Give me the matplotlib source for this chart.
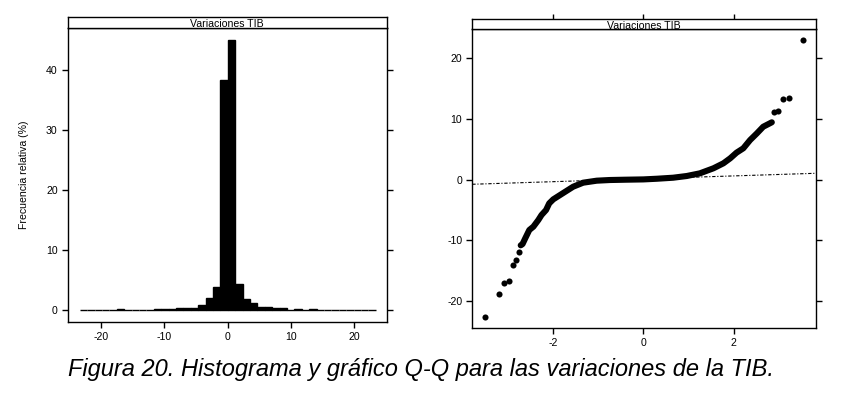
import matplotlib
matplotlib.use("Agg")
import matplotlib.pyplot as plt
import numpy as np

plt.rcParams['font.family'] = ['Liberation Sans', 'DejaVu Sans']
plt.rcParams['axes.unicode_minus'] = False

# ---------------- data ----------------
panel_title = "Variaciones TIB"
hist_ylabel = "Frecuencia relativa (%)"
caption = "Figura 20. Histograma y gráfico Q-Q para las variaciones de la TIB."

# histogram: bin edges (40 bins of ~1.17) and relative frequency (%)
hist_edges = [-23.4, -22.23, -21.06, -19.89, -18.72, -17.55, -16.38, -15.21, -14.04,
              -12.87, -11.7, -10.53, -9.36, -8.19, -7.02, -5.85, -4.68, -3.51, -2.34,
              -1.17, 0.0, 1.17, 2.34, 3.51, 4.68, 5.85, 7.02, 8.19, 9.36, 10.53, 11.7,
              12.87, 14.04, 15.21, 16.38, 17.55, 18.72, 19.89, 21.06, 22.23, 23.4]
hist_pct = [0.05, 0.0, 0.0, 0.05, 0.0, 0.15, 0.0, 0.05, 0.05, 0.05,
            0.15, 0.2, 0.25, 0.4, 0.45, 0.45, 0.9, 2.0, 3.8, 38.3,
            45.0, 4.4, 1.8, 1.2, 0.6, 0.6, 0.4, 0.4, 0.05, 0.15,
            0.0, 0.15, 0.0, 0.0, 0.0, 0.0, 0.0, 0.0, 0.0, 0.05]
hist_xticks = [-20, -10, 0, 10, 20]
hist_yticks = [0, 10, 20, 30, 40]

# Q-Q plot: dense body of points (theoretical, sample)
qq_theo_body = [-2.71, -2.67, -2.61, -2.52, -2.43, -2.32, -2.25, -2.15, -2.08, -1.99,
                -1.84, -1.69, -1.55, -1.33, -1.03, -0.74, -0.40, 0.0, 0.30, 0.66,
                0.96, 1.25, 1.55, 1.77, 1.92, 2.06, 2.21, 2.36, 2.51, 2.65, 2.84]
qq_samp_body = [-10.8, -10.6, -9.65, -8.28, -7.73, -6.63, -5.81, -4.99, -3.89, -3.23,
                -2.52, -1.81, -1.15, -0.49, -0.16, -0.05, 0.0, 0.05, 0.16, 0.33,
                0.61, 1.05, 1.88, 2.70, 3.52, 4.45, 5.17, 6.53, 7.63, 8.72, 9.45]
# isolated tail points
qq_theo_tail = [-3.51, -3.20, -3.07, -2.96, -2.89, -2.81, -2.75, 2.89, 2.97, 3.08, 3.22, 3.52]
qq_samp_tail = [-22.65, -18.77, -16.95, -16.73, -14.04, -13.22, -11.9, 11.2, 11.3, 13.33, 13.4, 22.95]
# reference line
qq_line_intercept = 0.15
qq_line_slope = 0.238
qq_xticks = [-2, 0, 2]
qq_yticks = [-20, -10, 0, 10, 20]

# ---------------- figure ----------------
W, H = 851, 399
fig = plt.figure(figsize=(W / 100, H / 100), dpi=100)

def box(x0, y0, x1, y1):
    return [x0 / W, 1 - y1 / H, (x1 - x0) / W, (y1 - y0) / H]

FS = 7.6
LW = 1.0

def style_axes(ax):
    for s in ax.spines.values():
        s.set_linewidth(LW)
        s.set_color('black')
    ax.tick_params(direction='out', length=4.2, width=LW, labelsize=FS, pad=3, colors='black')

def strip(rect, title):
    sa = fig.add_axes(rect)
    sa.set_xticks([]); sa.set_yticks([])
    for s in sa.spines.values():
        s.set_linewidth(LW)
    sa.text(0.5, 0.35, title, ha='center', va='center', fontsize=FS, transform=sa.transAxes)
    return sa

# ---- histogram panel ----
ax1 = fig.add_axes(box(67.7, 28.3, 386.5, 321.7))
edges = np.array(hist_edges)
ax1.bar(edges[:-1], hist_pct, width=np.diff(edges), align='edge',
        color='black', edgecolor='black', linewidth=1.0)
ax1.set_xlim(-25.3, 25.1)
ax1.set_ylim(-1.9, 46.9)
ax1.set_xticks(hist_xticks)
ax1.set_yticks(hist_yticks)
style_axes(ax1)
ax1.tick_params(axis='y', right=True, labelright=False)
ax1.set_ylabel(hist_ylabel, fontsize=FS, labelpad=12)
strip(box(67.7, 17.3, 386.5, 28.3), panel_title)

# ---- Q-Q panel ----
ax2 = fig.add_axes(box(472.3, 29.3, 815.7, 328.3))
ax2.axline((0, qq_line_intercept), slope=qq_line_slope, color='black',
           linewidth=0.8, dashes=(3, 1.6, 1, 1.6), zorder=1)
ax2.plot(qq_theo_body, qq_samp_body, color='black', linewidth=4.4,
         solid_capstyle='round', solid_joinstyle='round', zorder=2)
ax2.plot(qq_theo_tail, qq_samp_tail, 'o', color='black', markersize=4.4,
         markeredgewidth=0, zorder=3)
ax2.set_xlim(-3.78, 3.81)
ax2.set_ylim(-24.46, 24.76)
ax2.set_xticks(qq_xticks)
ax2.set_yticks(qq_yticks)
style_axes(ax2)
ax2.tick_params(axis='y', right=True, labelright=False)
ax2.tick_params(axis='x', top=False)
sa2 = strip(box(472.3, 19.3, 815.7, 29.3), panel_title)
# top ticks drawn on the strip axes (above the strip)
sa2.set_xlim(ax2.get_xlim())
sa2.set_xticks(qq_xticks)
sa2.tick_params(axis='x', bottom=False, top=True, labeltop=False, labelbottom=False,
                direction='out', length=3.5, width=LW)

# caption
fig.text(68.3 / W, 1 - 376 / H, caption, fontsize=17.0, style='italic',
         ha='left', va='baseline')

fig.savefig('out.png', dpi=100)
